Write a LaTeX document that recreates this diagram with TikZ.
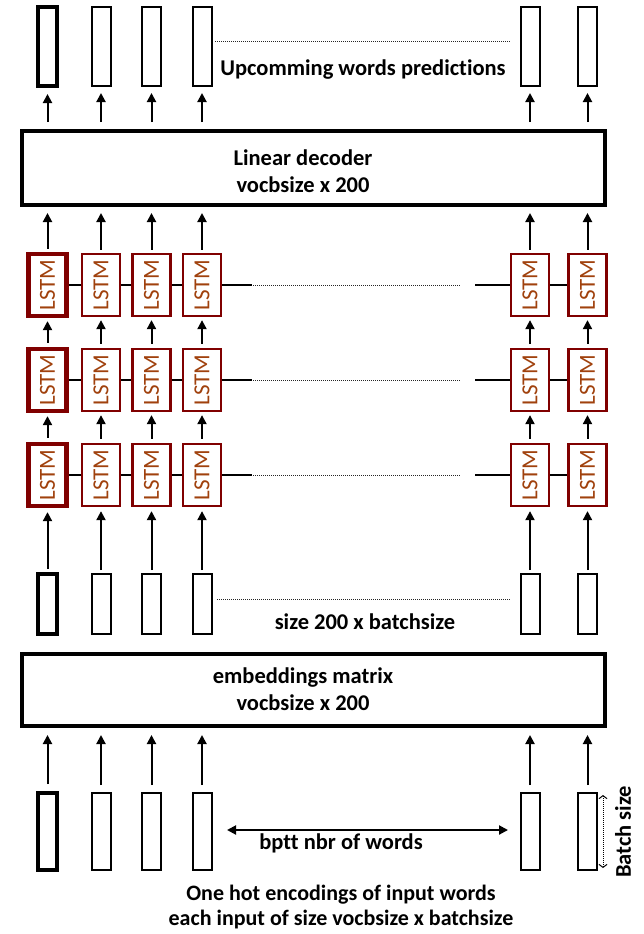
\documentclass[tikz,border=0pt]{standalone}
\usepackage{fontspec}
\setmainfont{Carlito}[Ligatures=NoCommon]
\usepackage{tikz}
\usetikzlibrary{arrows.meta,positioning,calc}
\definecolor{lstmred}{HTML}{800000}
\definecolor{lstmtext}{HTML}{A0410D}

\begin{document}
\begin{tikzpicture}[x=1pt,y=-1pt,
    vec/.style={rectangle,draw,minimum width=19pt,inner sep=0pt},
    lstm/.style={rectangle,draw=lstmred,minimum width=38pt,minimum height=62pt,
      inner sep=0pt,text=lstmtext,font=\fontsize{23}{26}\selectfont},
    bigbox/.style={rectangle,draw,line width=4pt,minimum width=583pt,inner sep=0pt},
    arr/.style={line width=2pt,-{Triangle[width=9pt,length=9pt]}},
    link/.style={line width=2pt},
    dots/.style={line width=1pt,dash pattern=on 1pt off 1pt,black!85},
    txt/.style={font=\bfseries\fontsize{22.5}{27}\selectfont,align=center}
  ]
  \useasboundingbox (0,0) rectangle (643,934);
  % decoder and embeddings
  \node[bigbox,minimum height=74pt] (dec) at (313.5,168) {};
  \node[txt] (dectxt) at (303,171) {Linear decoder\\vocbsize x 200};
  \node[bigbox,minimum height=72pt] (embm) at (313.5,690) {};
  \node[txt] (embtxt) at (303,689) {embeddings matrix\\vocbsize x 200};
  % one column per word
  \foreach \i/\x/\w in {1/47.5/4,2/101/2,3/151.5/2,4/202/2,5/530/2,6/587.5/2} {
    \node[vec,line width=\w pt,minimum height=79pt] (out\i) at (\x,46.5) {};
    \node[vec,line width=\w pt,minimum height=60pt] (emb\i) at (\x,604) {};
    \node[vec,line width=\w pt,minimum height=77pt] (in\i) at (\x,831.5) {};
    \foreach \r/\y in {1/285,2/380,3/475}
      \node[lstm,line width=\w pt+0.3pt] (l\r\i) at (\x,\y) {\rotatebox{90}{LSTM}};
    \draw[arr,shorten <=7pt,shorten >=6pt] (out\i.south |- dec.north) -- (out\i.south);
    \draw[arr,shorten <=3pt,shorten >=6pt] (l1\i.north) -- (l1\i.north |- dec.south);
    \draw[arr,shorten <=4pt,shorten >=3pt] (l2\i.north) -- (l1\i.south);
    \draw[arr,shorten <=4pt,shorten >=3pt] (l3\i.north) -- (l2\i.south);
    \draw[arr,shorten <=3pt,shorten >=4pt] (emb\i.north) -- (l3\i.south);
    \draw[arr,shorten <=7pt,shorten >=7pt] (in\i.north) -- (in\i.north |- embm.south);
  }
  % recurrent links
  \foreach \r/\y in {1/285,2/380,3/475} {
    \draw[link] (l\r1.east) -- (l\r2.west);
    \draw[link] (l\r2.east) -- (l\r3.west);
    \draw[link] (l\r3.east) -- (l\r4.west);
    \draw[link] (l\r4.east) -- ++(30,0) coordinate (gapa\r);
    \coordinate (gapb\r) at (461,\y);
    \coordinate (gapc\r) at (475,\y);
    \draw[dots] ($(gapa\r)+(1,0)$) -- (gapb\r);
    \draw[link] (gapc\r) -- (l\r5.west);
    \draw[link] (l\r5.east) -- (l\r6.west);
  }
  % dotted gaps and labels
  \coordinate (outgapl) at (215,42);
  \coordinate (outgapr) at (510,42);
  \draw[dots] (outgapl) -- (outgapr);
  \node[txt] (outtxt) at (363,70) {Upcomming words predictions};
  \coordinate (embgapl) at (217,599);
  \coordinate (embgapr) at (510,599);
  \draw[dots] (embgapl) -- (embgapr);
  \node[txt] (embvtxt) at (365,622) {size 200 x batchsize};
  % sequence length and batch size
  \coordinate (bpttl) at (227,830);
  \coordinate (bpttr) at (508,830);
  \draw[line width=2pt,{Triangle[width=9pt,length=9pt]}-{Triangle[width=9pt,length=9pt]}] (bpttl) -- (bpttr);
  \node[txt] (bptttxt) at (341,843) {bptt nbr of words};
  \coordinate (batcht) at (603,795);
  \coordinate (batchb) at (603,868);
  \draw[line width=1pt,dash pattern=on 1pt off 1pt,{Straight Barb[length=3pt,width=8pt]}-{Straight Barb[length=3pt,width=8pt]}] (batcht) -- (batchb);
  \node[txt,rotate=90] (batchtxt) at (623,832) {Batch size};
  \node[txt,font=\bfseries\fontsize{22}{25}\selectfont] (intxt) at (341,907) {One hot encodings of input words\\each input of size vocbsize x batchsize};
\end{tikzpicture}
\end{document}
